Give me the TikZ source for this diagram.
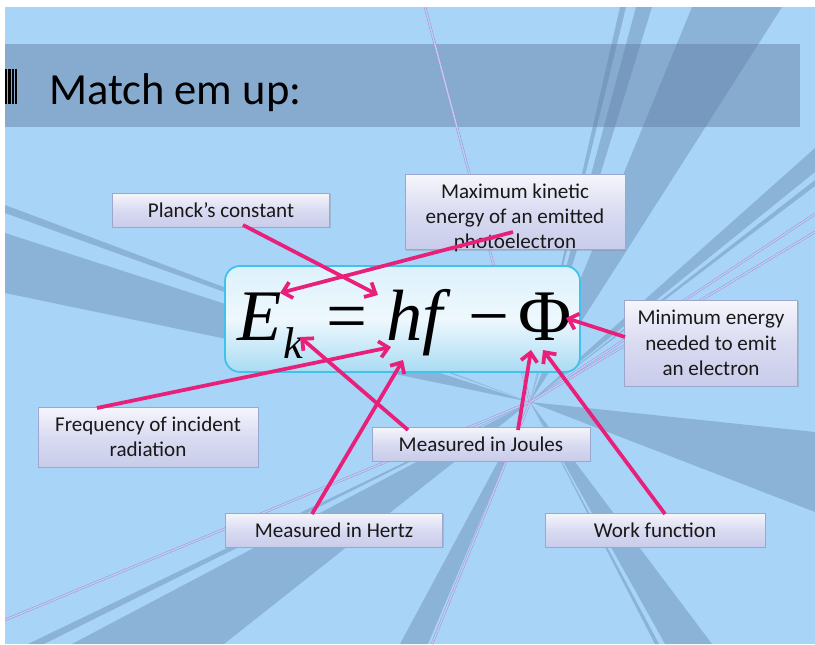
\documentclass[tikz,border=0pt]{standalone}
\usepackage{fontspec}
\setmainfont{Carlito}
\newfontfamily\eqfont{Liberation Serif}
\usetikzlibrary{arrows.meta,shadows}
\definecolor{slidebg}{HTML}{A7D4F7}
\definecolor{bandbg}{HTML}{87AACF}
\definecolor{raycol}{HTML}{5F7FA6}
\definecolor{linkpink}{HTML}{E8207A}
\definecolor{thinpink}{HTML}{C77ACB}
\definecolor{boxedge}{HTML}{9CA7D0}
\definecolor{boxtop}{HTML}{F6F6FC}
\definecolor{boxmid}{HTML}{D9DBF1}
\definecolor{boxbot}{HTML}{C9CCEA}
\definecolor{eqedge}{HTML}{3FC2EC}
\definecolor{eqtop}{HTML}{DDF1FB}
\definecolor{eqmid}{HTML}{EEF8FD}
\definecolor{eqbot}{HTML}{A9DBF3}

\begin{document}
\begin{tikzpicture}[x=0.03cm, y=-0.03cm,
    lbl/.style={draw=boxedge, line width=0.6pt, top color=boxtop, bottom color=boxbot,
                middle color=boxmid, drop shadow={shadow xshift=1pt, shadow yshift=-1pt, opacity=0.3},
                align=center, text=black!90, inner sep=0pt,
                font=\fontsize{18}{21.5}\selectfont},
    eqbox/.style={draw=eqedge, line width=1.5pt, rounded corners=0.45cm, top color=eqtop,
                  bottom color=eqbot, middle color=eqmid, minimum width=10.65cm, minimum height=3.18cm},
    sym/.style={font=\eqfont\fontsize{62}{62}\selectfont, inner sep=0pt, anchor=base west},
    ray/.style={fill=raycol, fill opacity=0.38},
    twin/.style={draw=thinpink, line width=0.35pt, double=slidebg, double distance=1.3pt},
    arr/.style={-{Straight Barb[length=7.5pt,width=14pt]}, line width=3.2pt, draw=linkpink}
  ]
  \fill[white] (0,0) rectangle (815,644);
  \useasboundingbox (0,0) rectangle (815,644);
  \begin{scope}
    \clip (5,7) rectangle (815,644);
    \fill[slidebg] (5,7) rectangle (815,644);
    \fill[bandbg] (5,44) rectangle (800,127);
    \coordinate (ctr) at (530,402);
    \foreach \ax/\ay/\bx/\by in {5/233/5/293, 5/205/5/213, 692/7/782/7, 636/7/652/7,
        620/7/626/7, 815/148/815/172, 815/180/815/186, 815/432/815/512, 665/644/712/644,
        655/644/659/644, 400/644/428/644, 72/644/224/644, 28/644/44/644}
      \fill[ray] (ctr) -- (\ax,\ay) -- (\bx,\by) -- cycle;
    \foreach \ex/\ey in {425/7, 5/620, 815/214, 815/232, 432/644}
      \draw[twin] (ctr) -- (\ex,\ey);
  \end{scope}

  \foreach \i in {0,...,3}
    \fill[black] (5+\i*3.4,69) rectangle ++(2.2,35);
  \node[anchor=base west, inner sep=0pt, font=\fontsize{38}{38}\selectfont] (title) at (49,104) {Match em up:};

  \node[eqbox] (eq) at (402.5,319) {};
  \node[sym] (symE) at (237,340) {\itshape E};
  \node[sym, font=\eqfont\fontsize{38}{38}\selectfont] (symk) at (283,358) {\itshape k};
  \node[sym] (symeq) at (326,340) {=};
  \node[sym] (symhf) at (386,340) {\itshape hf};
  \node[sym] (symmin) at (468,340) {−};
  \node[sym] (symPhi) at (518,340) {Φ};

  \node[lbl, minimum width=6.51cm, minimum height=1.02cm] (planck) at (221,210) {Planck’s constant};
  \node[lbl, minimum width=6.6cm, minimum height=2.25cm, text depth=0pt] (maxke) at (515,212) {\rule{0pt}{20pt}Maximum kinetic\\energy of an emitted\\photoelectron};
  \node[lbl, minimum width=5.19cm, minimum height=2.58cm] (mine) at (711,343) {Minimum energy\\needed to emit\\an electron};
  \node[lbl, minimum width=6.6cm, minimum height=1.8cm] (freq) at (148,437) {Frequency of incident\\radiation};
  \node[lbl, minimum width=6.54cm, minimum height=1.02cm] (joules) at (481,444) {Measured in Joules};
  \node[lbl, minimum width=6.51cm, minimum height=1.02cm] (hertz) at (334,530) {Measured in Hertz};
  \node[lbl, minimum width=6.6cm, minimum height=1.02cm] (work) at (655,530) {Work function};

  \coordinate (tipE) at (280,293);
  \coordinate (tiph) at (378,295);
  \coordinate (tipPhi) at (566,318);
  \coordinate (tiphf) at (391,347);
  \coordinate (tipk) at (300,337);
  \coordinate (tipf) at (403,360);
  \coordinate (tipPhiL) at (531,350);
  \coordinate (tipPhiR) at (543,350);

  \draw[arr] ([shift={(22,15)}]planck.center) -- (tiph);
  \draw[arr] ([shift={(-2,20)}]maxke.center) -- (tipE);
  \draw[arr] ([shift={(-86,-6)}]mine.center) -- (tipPhi);
  \draw[arr] ([shift={(-51,-29)}]freq.center) -- (tiphf);
  \draw[arr] ([shift={(-73,-14)}]joules.center) -- (tipk);
  \draw[arr] ([shift={(37,-14)}]joules.center) -- (tipPhiL);
  \draw[arr] ([shift={(-22,-16)}]hertz.center) -- (tipf);
  \draw[arr] ([shift={(10,-16)}]work.center) -- (tipPhiR);
\end{tikzpicture}
\end{document}
